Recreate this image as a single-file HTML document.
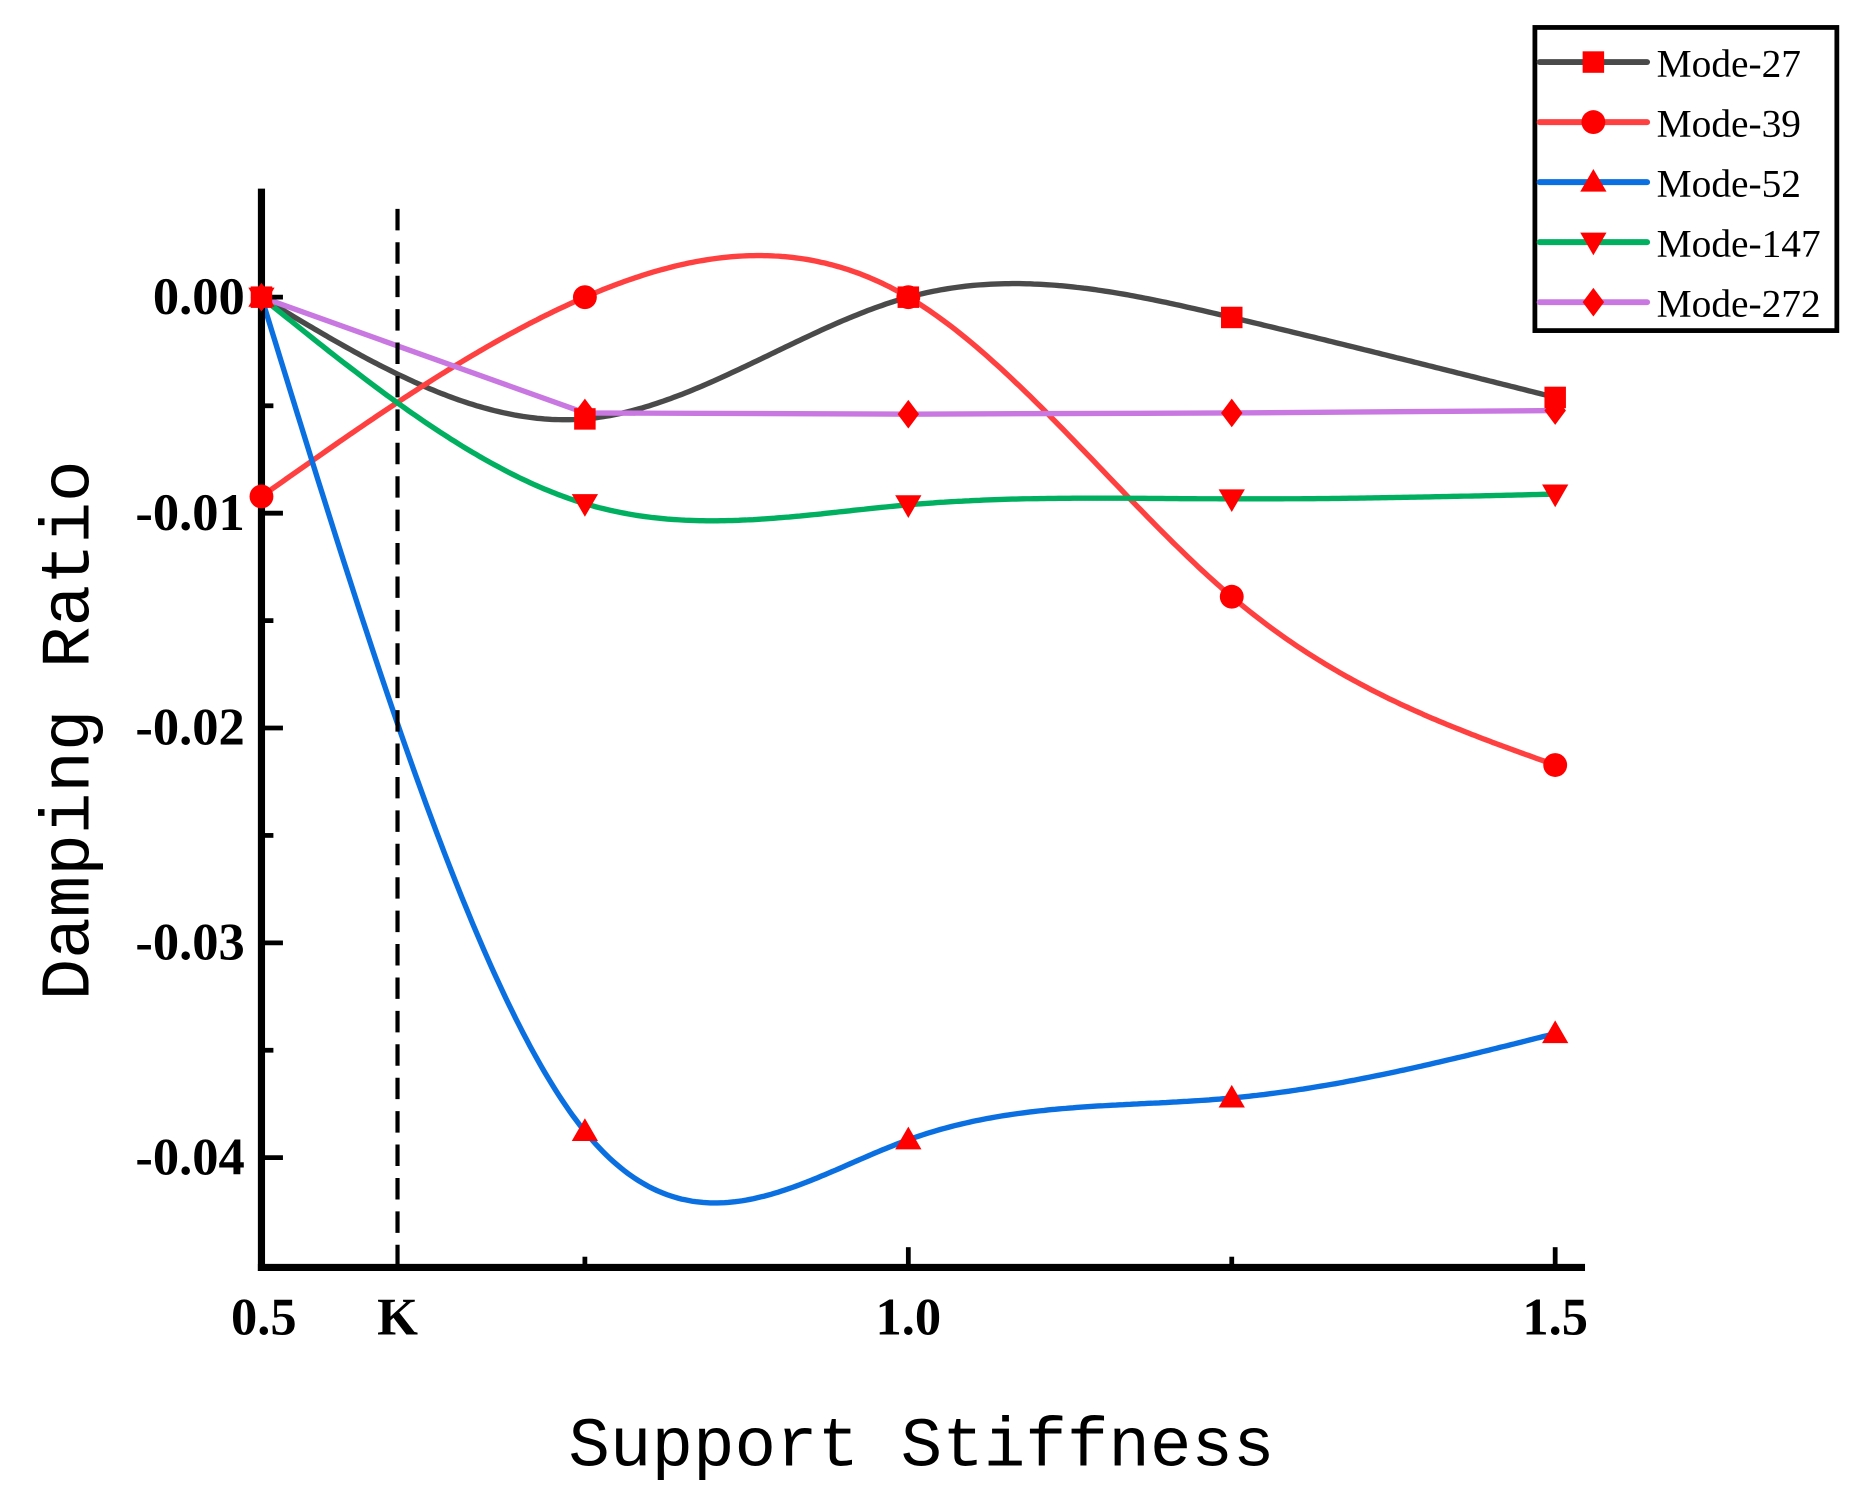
<!DOCTYPE html>
<html><head><meta charset="utf-8"><style>html,body{margin:0;padding:0;background:#fff}svg{display:block}</style></head>
<body>
<svg id="s" width="1862" height="1499" viewBox="0 0 1560 1256" xmlns="http://www.w3.org/2000/svg">
<rect width="1560" height="1256" fill="#fff"/>
<g id="curves" fill="none" stroke-width="4.5"></g>
<line x1="333" y1="175" x2="333" y2="1062" stroke="#000" stroke-width="3.5" stroke-dasharray="18 10"/>
<g stroke="#000" stroke-width="6">
<line x1="219" y1="158" x2="219" y2="1065"/>
<line x1="216" y1="1062" x2="1328" y2="1062"/>
</g>
<g stroke="#000" stroke-width="4">
<line x1="219" y1="249" x2="237" y2="249"/><line x1="219" y1="430" x2="237" y2="430"/>
<line x1="219" y1="610" x2="237" y2="610"/><line x1="219" y1="790" x2="237" y2="790"/>
<line x1="219" y1="970" x2="237" y2="970"/>
<line x1="219" y1="340" x2="229" y2="340"/><line x1="219" y1="520" x2="229" y2="520"/>
<line x1="219" y1="700" x2="229" y2="700"/><line x1="219" y1="880" x2="229" y2="880"/>
<line x1="490" y1="1062" x2="490" y2="1053"/><line x1="761" y1="1062" x2="761" y2="1045"/>
<line x1="1032" y1="1062" x2="1032" y2="1053"/><line x1="1303" y1="1062" x2="1303" y2="1045"/>
</g>
<g id="marks" fill="#ff0000"></g>
<g font-family="Liberation Serif, serif" font-weight="bold" font-size="44" fill="#000">
<text x="205" y="263" text-anchor="end">0.00</text>
<text x="205" y="444" text-anchor="end">-0.01</text>
<text x="205" y="624" text-anchor="end">-0.02</text>
<text x="205" y="804" text-anchor="end">-0.03</text>
<text x="205" y="984" text-anchor="end">-0.04</text>
<text x="221" y="1118" text-anchor="middle">0.5</text>
<text x="333" y="1118" text-anchor="middle">K</text>
<text x="761" y="1118" text-anchor="middle">1.0</text>
<text x="1303" y="1118" text-anchor="middle">1.5</text>
</g>
<text x="772" y="1228" text-anchor="middle" font-family="Liberation Mono, monospace" font-size="58" fill="#000">Support Stiffness</text>
<text transform="translate(74,612) rotate(-90)" text-anchor="middle" font-family="Liberation Mono, monospace" font-size="58" fill="#000">Damping Ratio</text>
<rect x="1286" y="23" width="253" height="254" fill="#fff" stroke="#000" stroke-width="4"/>
<g id="leg"></g>
</svg>
<script>
var S=[
{c:"#4a4a4a",m:"sq",p:[[219,249],[490,351],[761,249],[1032,266],[1303,333]],n:"Mode-27"},
{c:"#ff4040",m:"ci",p:[[219,416],[490,249],[761,249],[1032,500],[1303,641]],n:"Mode-39"},
{c:"#0a6fe0",m:"up",p:[[219,249],[490,948],[761,955],[1032,920],[1303,866]],n:"Mode-52"},
{c:"#00b060",m:"dn",p:[[219,249],[490,422],[761,423],[1032,418],[1303,414]],n:"Mode-147"},
{c:"#c878e0",m:"di",p:[[219,249],[490,346],[761,347],[1032,346],[1303,344]],n:"Mode-272",lin:1}];
function spline(p){var n=p.length,x=p.map(a=>a[0]),y=p.map(a=>a[1]),h=[],al=[],l=[1],mu=[0],z=[0],c=new Array(n).fill(0),b=[],d=[];
for(var i=0;i<n-1;i++)h[i]=x[i+1]-x[i];
for(i=1;i<n-1;i++)al[i]=3/h[i]*(y[i+1]-y[i])-3/h[i-1]*(y[i]-y[i-1]);
for(i=1;i<n-1;i++){l[i]=2*(x[i+1]-x[i-1])-h[i-1]*mu[i-1];mu[i]=h[i]/l[i];z[i]=(al[i]-h[i-1]*z[i-1])/l[i];}
for(i=n-2;i>=0;i--){c[i]=(i<n-1?z[i]||0:0)-mu[i]*c[i+1];if(i==0)c[0]=0;b[i]=(y[i+1]-y[i])/h[i]-h[i]*(c[i+1]+2*c[i])/3;d[i]=(c[i+1]-c[i])/(3*h[i]);}
var s="";for(i=0;i<n-1;i++){for(var t=0;t<=h[i];t+=3){var v=y[i]+b[i]*t+c[i]*t*t+d[i]*t*t*t;s+=(s?"L":"M")+(x[i]+t).toFixed(1)+","+v.toFixed(1);}}
s+="L"+x[n-1]+","+y[n-1];return s;}
function mk(t,x,y){if(t=="sq")return '<rect x="'+(x-9)+'" y="'+(y-9)+'" width="18" height="18"/>';
if(t=="ci")return '<circle cx="'+x+'" cy="'+y+'" r="10"/>';
if(t=="up")return '<polygon points="'+x+','+(y-11)+' '+(x+11)+','+(y+8)+' '+(x-11)+','+(y+8)+'"/>';
if(t=="dn")return '<polygon points="'+x+','+(y+11)+' '+(x+11)+','+(y-8)+' '+(x-11)+','+(y-8)+'"/>';
return '<polygon points="'+x+','+(y-12)+' '+(x+9)+','+y+' '+x+','+(y+12)+' '+(x-9)+','+y+'"/>';}
var cv="",mm="",lg="";
S.forEach(function(s,k){var d=s.lin?"M"+s.p.map(q=>q.join(",")).join("L"):spline(s.p);
cv+='<path d="'+d+'" stroke="'+s.c+'"/>';
s.p.forEach(function(q){mm+=mk(s.m,q[0],q[1]);});
var ly=52+k*50.3;
lg+='<line x1="1290" y1="'+ly+'" x2="1380" y2="'+ly+'" stroke="'+s.c+'" stroke-width="5" stroke-linecap="round"/>';
lg+='<g fill="#ff0000">'+mk(s.m,1335,ly)+'</g>';
lg+='<text x="1388" y="'+(ly+12)+'" font-family="Liberation Serif, serif" font-size="33" fill="#000">'+s.n+'</text>';});
document.getElementById("curves").innerHTML=cv;
document.getElementById("marks").innerHTML=mm;
document.getElementById("leg").innerHTML=lg;
</script>
</body></html>
